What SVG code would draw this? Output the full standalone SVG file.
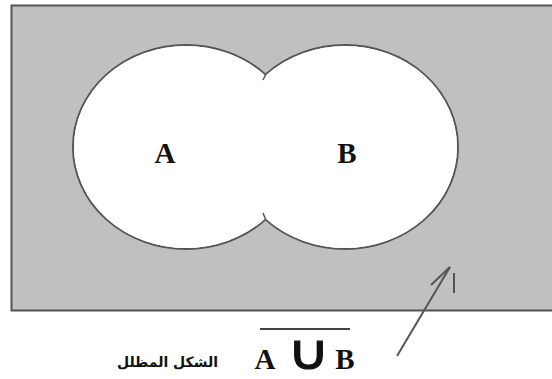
<svg xmlns="http://www.w3.org/2000/svg" width="552" height="379" viewBox="0 0 552 379">
<style>
.lbl{font-family:"Liberation Serif","Times New Roman",serif;font-weight:bold;font-size:29px;fill:#111;text-anchor:middle}
.edge{stroke:#555;stroke-width:2;fill:none}
</style>
<rect x="0" y="0" width="552" height="379" fill="#ffffff"/>
<g id="universe">
<rect x="11.5" y="5.5" width="560" height="305" fill="#c0c0c0" stroke="#555" stroke-width="2"/>
</g>
<g id="union">
<ellipse cx="186" cy="147" rx="113" ry="102" fill="#fff" stroke="#555" stroke-width="2"/>
<ellipse cx="345" cy="147" rx="113" ry="102" fill="#fff" stroke="#555" stroke-width="2"/>
<ellipse cx="186" cy="147" rx="112" ry="101" fill="#fff"/>
<ellipse cx="345" cy="147" rx="112" ry="101" fill="#fff"/>
<line x1="265.5" y1="75" x2="263" y2="80" stroke="#555" stroke-width="1.5"/>
<line x1="265.5" y1="219" x2="263" y2="213" stroke="#555" stroke-width="1.5"/>
</g>
<g id="setA"><text class="lbl" x="165" y="163">A</text></g>
<g id="setB"><text class="lbl" x="347" y="163">B</text></g>
<g id="connectors">
<line class="edge" x1="397" y1="356" x2="450" y2="267" stroke-width="1.5"/>
<line class="edge" x1="431" y1="285" x2="450" y2="267" stroke-width="1.5"/>
<line class="edge" x1="454" y1="273" x2="454" y2="293" stroke-width="1.5"/>
</g>
<g id="caption">
<line x1="260" y1="329" x2="350" y2="329" stroke="#444" stroke-width="2"/>
<text class="lbl" x="265" y="369">A</text>
<text transform="translate(308.5,369) scale(1.2,1)" x="0" y="0" font-family="DejaVu Sans, sans-serif" font-weight="normal" font-size="48" fill="#111" stroke="#111" stroke-width="1.2" text-anchor="middle">∪</text>
<text class="lbl" x="345" y="369">B</text>
<text x="218" y="367" font-family="DejaVu Sans, sans-serif" font-weight="bold" font-size="14" fill="#111" text-anchor="start" direction="rtl">الشكل المظلل</text>
</g>
</svg>
